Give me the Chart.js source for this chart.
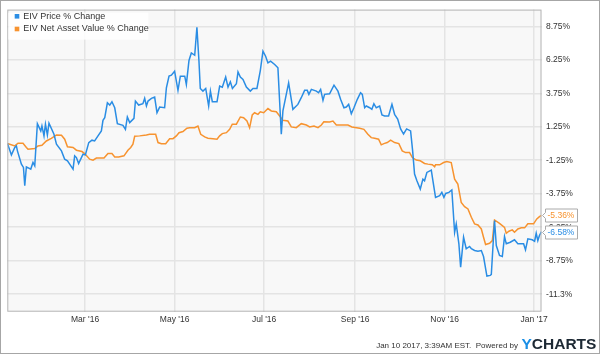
<!DOCTYPE html>
<html>
<head>
<meta charset="utf-8">
<script src="https://cdn.jsdelivr.net/npm/chart.js@4.4.1/dist/chart.umd.min.js"></script>
<style>
  html, body { margin: 0; padding: 0; background: #fff; }
  #wrap { width: 600px; height: 354px; position: relative; }
</style>
</head>
<body>
<div id="wrap"><canvas id="chart" width="600" height="354"></canvas></div>
<script>
// days counted from 1 Jan 2016 (day 0)
const priceDays = [
  7.1, 9.8, 12.1, 13.2, 13.9, 16.6, 18.0, 18.9, 20.0, 23.0,
  24.5, 25.7, 27.5, 29.8, 30.6, 32.0, 33.0, 34.3, 35.4, 38.8,
  40.5, 43.9, 46.1, 48.0, 49.5, 51.8, 52.9, 54.1, 55.6, 58.6,
  60.2, 62.5, 64.7, 66.5, 68.8, 71.1, 72.2, 73.4, 75.2, 76.8,
  78.3, 80.2, 82.0, 85.8, 87.5, 88.8, 90.4, 93.3, 94.3, 96.5,
  99.4, 100.6, 101.8, 102.9, 105.2, 107.4, 109.0, 110.8, 114.2, 115.4,
  117.2, 118.8, 121.0, 123.3, 124.9, 127.9, 129.0, 130.8, 132.4, 134.7,
  136.2, 137.6, 138.5, 140.3, 142.2, 144.2, 145.4, 146.7, 149.9, 151.7,
  153.5, 155.8, 157.4, 159.0, 160.4, 163.1, 164.2, 165.8, 167.6, 169.9,
  172.6, 174.4, 177.1, 179.4, 181.2, 183.0, 184.6, 186.4, 189.2, 191.4,
  193.7, 194.8, 197.1, 198.7, 201.6, 205.0, 207.3, 209.6, 211.4, 212.5,
  214.2, 217.6, 219.1, 220.5, 222.1, 223.2, 226.6, 229.6, 232.3, 234.1,
  236.4, 238.0, 239.6, 241.4, 243.2, 245.5, 247.7, 248.9, 250.5, 251.6,
  253.9, 255.4, 256.8, 258.4, 260.7, 262.3, 264.1, 266.8, 269.1, 270.9,
  273.0, 275.0, 277.0, 279.1, 281.8, 283.2, 284.5, 286.1, 288.4, 290.2,
  291.3, 292.9, 295.9, 297.0, 298.8, 301.6, 303.1, 304.5, 305.7, 307.9,
  309.9, 311.8, 312.9, 314.7, 315.9, 317.9, 319.7, 322.0, 323.2, 325.4,
  327.7, 330.0, 331.5, 333.8, 336.1, 336.8, 338.3, 339.0, 340.2, 342.4,
  344.3, 345.8, 347.0, 349.7, 352.6, 354.9, 357.2, 358.8, 360.1, 361.7,
  364.7, 366.3, 367.4, 368.5, 369.6, 371.0
];
const priceChange = [
  0.00, -0.85, -0.30, -0.18, -0.55, -1.54, -1.79, -3.15, -1.74, -1.91,
  -1.42, -1.67, 1.48, 0.94, 1.31, 0.57, 1.44, 0.64, 1.51, 0.69,
  -0.05, -0.55, -1.17, -1.29, -1.54, -1.91, -0.92, -1.05, -1.49, -0.80,
  -0.85, 0.07, 0.25, 0.19, 0.57, 0.94, 1.73, 1.93, 3.04, 2.87,
  3.12, 2.67, 1.48, 1.36, 1.06, 1.98, 1.56, 1.88, 3.17, 2.87,
  2.97, 3.37, 2.80, 3.17, 3.37, 3.47, 2.30, 2.72, 2.67, 4.16,
  5.03, 5.10, 5.40, 3.97, 5.03, 5.03, 4.41, 6.20, 6.76, 6.59,
  8.68, 6.14, 4.11, 3.91, 4.11, 2.80, 3.91, 3.12, 3.12, 4.29,
  4.21, 4.96, 4.21, 4.61, 4.11, 4.46, 5.35, 4.96, 4.78, 4.21,
  3.91, 4.11, 4.11, 5.45, 6.89, 6.52, 6.02, 6.15, 5.90, 5.65,
  0.69, 2.43, 3.67, 4.53, 2.55, 2.92, 3.42, 3.97, 3.97, 3.67,
  4.04, 3.91, 3.79, 4.04, 3.22, 3.67, 3.71, 4.36, 3.91, 3.30,
  2.67, 2.72, 2.92, 2.22, 2.67, 3.30, 3.79, 3.67, 2.67, 2.80,
  2.67, 2.55, 2.97, 2.67, 2.80, 2.13, 2.05, 2.05, 2.92, 2.18,
  1.83, 1.09, 0.71, 1.09, 0.94, -0.55, -2.28, -2.78, -3.40, -2.66,
  -2.78, -2.16, -1.99, -2.78, -4.02, -3.90, -3.65, -4.02, -3.73, -3.65,
  -3.47, -6.63, -6.00, -7.49, -9.23, -7.00, -7.86, -7.69, -7.86, -7.99,
  -8.04, -7.99, -8.44, -9.90, -9.85, -9.78, -7.00, -5.76, -7.62, -8.36,
  -8.44, -6.95, -7.49, -7.37, -7.19, -7.49, -7.49, -7.49, -7.94, -7.12,
  -7.19, -7.30, -6.70, -7.25, -6.87, -6.58
];

const navDays = [
  7.1, 12.1, 14.3, 17.7, 20.0, 21.1, 25.7, 27.9, 30.6, 33.6,
  37.0, 40.5, 43.9, 46.1, 48.0, 51.8, 54.1, 57.9, 59.7, 63.1,
  65.4, 67.7, 72.9, 75.6, 78.3, 80.2, 82.9, 86.5, 89.2, 91.1,
  92.6, 93.8, 97.2, 101.8, 104.0, 108.1, 109.7, 112.0, 114.9, 117.6,
  119.9, 122.2, 124.0, 126.7, 129.4, 131.3, 134.7, 136.9, 138.8, 141.5,
  143.7, 147.1, 149.9, 151.7, 153.5, 156.3, 158.5, 160.3, 163.1, 165.8,
  168.0, 170.3, 172.1, 173.9, 175.5, 177.8, 179.4, 181.7, 184.6, 186.9,
  190.3, 192.6, 194.8, 198.2, 200.5, 203.9, 207.3, 210.8, 213.0, 216.0,
  218.7, 221.0, 222.7, 226.6, 228.9, 231.2, 239.1, 241.8, 247.1, 250.0,
  252.7, 255.0, 257.3, 260.0, 261.8, 263.6, 265.9, 268.2, 270.9, 273.8,
  276.1, 278.4, 281.1, 283.0, 285.7, 288.4, 291.3, 293.6, 296.6, 298.2,
  298.8, 301.6, 304.3, 306.5, 309.5, 311.8, 314.0, 316.3, 318.6, 320.9,
  323.2, 325.4, 327.7, 330.0, 331.5, 332.9, 335.6, 337.5, 339.0, 342.4,
  345.8, 347.0, 348.8, 351.1, 352.6, 354.9, 357.2, 359.5, 361.7, 365.6,
  367.8, 369.6, 371.0
];
const navChange = [
  0.00, -0.18, 0.02, 0.02, -0.30, -0.42, -0.38, -0.18, -0.13, 0.19,
  0.39, 0.64, 0.62, 0.32, -0.25, -0.30, -0.50, -0.60, -0.75, -1.17,
  -1.24, -1.09, -1.09, -0.75, -0.75, -1.00, -1.00, -0.92, -0.50, -0.30,
  -0.05, 0.54, 0.57, 0.64, 0.69, 0.69, 0.07, -0.01, -0.01, 0.36,
  0.36, 0.57, 0.81, 0.89, 1.14, 1.18, 1.18, 1.31, 0.69, 0.49,
  0.39, 0.36, 0.32, 0.57, 0.74, 0.81, 1.06, 1.44, 1.44, 1.98,
  1.93, 1.68, 1.18, 2.13, 2.30, 2.18, 2.37, 2.30, 2.61, 2.43,
  2.37, 2.05, 1.73, 1.68, 1.24, 1.18, 1.48, 1.38, 1.24, 1.31,
  1.18, 1.38, 1.63, 1.61, 1.68, 1.38, 1.38, 1.24, 1.14, 1.06,
  0.69, 0.44, 0.39, 0.32, -0.10, -0.01, 0.07, 0.25, 0.07, -0.01,
  -0.55, -0.68, -0.68, -1.05, -1.24, -1.29, -1.49, -1.54, -1.59, -1.74,
  -1.59, -1.59, -1.42, -1.35, -1.42, -2.66, -3.03, -4.40, -4.72, -4.89,
  -5.51, -6.00, -6.08, -6.38, -7.00, -7.54, -7.45, -7.25, -5.71, -5.96,
  -6.26, -6.70, -6.55, -6.45, -6.63, -6.38, -6.30, -6.30, -6.00, -6.00,
  -5.63, -5.46, -5.36
];

const seriesNames = ['EIV Price % Change', 'EIV Net Asset Value % Change'];
const seriesColors = ['#2a8de4', '#f7932f'];

const xTickDays = [60, 121, 182, 244, 305, 366];
const xTickLabels = ["Mar '16", "May '16", "Jul '16", "Sep '16", "Nov '16", "Jan '17"];
const yTickValues = [-11.25, -8.75, -6.25, -3.75, -1.25, 1.25, 3.75, 6.25, 8.75];
const yTickLabels = ['-11.3%', '-8.75%', '-6.25%', '-3.75%', '-1.25%', '1.25%', '3.75%', '6.25%', '8.75%'];

const FONT = "'Liberation Sans', Arial, sans-serif";

function toPoints(xs, ys){
  return xs.map((x, i) => ({x: x, y: ys[i]}));
}

// plot background, borders, legend, end-value flags and footer
const decor = {
  id: 'decor',
  beforeDraw(chart){
    const {ctx, chartArea: a} = chart;
    ctx.save();
    ctx.fillStyle = '#fff';
    ctx.fillRect(0, 0, chart.width, chart.height);
    ctx.fillStyle = '#f8f8f8';
    ctx.fillRect(a.left, a.top, a.right - a.left, a.bottom - a.top);
    ctx.restore();
  },
  afterDatasetsDraw(chart){
    const {ctx, chartArea: a} = chart;
    ctx.save();
    ctx.strokeStyle = '#b4b4b4';
    ctx.lineWidth = 1;
    ctx.strokeRect(a.left + 0.5, a.top + 0.5, a.right - a.left - 1, a.bottom - a.top - 1);
    ctx.strokeStyle = '#a6a6a6';
    ctx.strokeRect(0.5, 0.5, chart.width - 1, chart.height - 1);

    // legend
    ctx.fillStyle = 'rgba(255,255,255,0.85)';
    ctx.fillRect(a.left + 1, a.top + 3, 140, 27);
    ctx.font = '9px ' + FONT;
    ctx.textBaseline = 'middle';
    seriesNames.forEach((name, i) => {
      const y = 16.3 + i * 12.7;
      ctx.fillStyle = seriesColors[i];
      ctx.fillRect(14.7, y - 2.3, 4.6, 4.6);
      ctx.fillStyle = '#333';
      ctx.fillText(name, 23.3, y);
    });

    // last value flags
    const ys = chart.scales.y;
    const flags = [
      {v: navChange[navChange.length - 1], c: seriesColors[1]},
      {v: priceChange[priceChange.length - 1], c: seriesColors[0]}
    ];
    ctx.font = '8.5px ' + FONT;
    flags.forEach(f => {
      const y = Math.round(ys.getPixelForValue(f.v)) + 0.5;
      const x0 = a.right + 4, x1 = 577.5, h = 6.5;
      ctx.beginPath();
      ctx.moveTo(a.right + 1, y);
      ctx.lineTo(x0, y - 3);
      ctx.lineTo(x0, y - h);
      ctx.lineTo(x1, y - h);
      ctx.lineTo(x1, y + h);
      ctx.lineTo(x0, y + h);
      ctx.lineTo(x0, y + 3);
      ctx.closePath();
      ctx.fillStyle = '#fff';
      ctx.fill();
      ctx.strokeStyle = '#aaa';
      ctx.stroke();
      ctx.fillStyle = f.c;
      ctx.textAlign = 'left';
      ctx.fillText(f.v.toFixed(2) + '%', x0 + 2, y + 0.5);
    });

    // footer
    ctx.fillStyle = '#333';
    ctx.font = '8px ' + FONT;
    ctx.textAlign = 'right';
    ctx.textBaseline = 'alphabetic';
    ctx.fillText('Jan 10 2017, 3:39AM EST.  Powered by', 518, 348);
    ctx.textAlign = 'left';
    ctx.font = 'bold 15.5px ' + FONT;
    ctx.fillStyle = '#1a8fe6';
    ctx.fillText('Y', 521.5, 348.5);
    const yw = ctx.measureText('Y').width;
    ctx.fillStyle = '#1c2833';
    ctx.fillText('CHARTS', 521.5 + yw, 348.5);
    ctx.restore();
  }
};

new Chart(document.getElementById('chart').getContext('2d'), {
  type: 'line',
  data: {
    datasets: [
      {label: seriesNames[0], data: toPoints(priceDays, priceChange), borderColor: seriesColors[0], borderWidth: 1.5, pointRadius: 0, tension: 0, fill: false},
      {label: seriesNames[1], data: toPoints(navDays, navChange), borderColor: seriesColors[1], borderWidth: 1.5, pointRadius: 0, tension: 0, fill: false}
    ]
  },
  options: {
    responsive: false,
    animation: false,
    layout: {padding: {left: 7.3, top: 7.3, right: 0, bottom: 0}},
    plugins: {legend: {display: false}, tooltip: {enabled: false}},
    scales: {
      x: {
        type: 'linear',
        min: 7, max: 371,
        afterBuildTicks: s => { s.ticks = xTickDays.map(v => ({value: v})); },
        afterFit: s => { s.height = 42.3; },
        grid: {color: '#e4e4e4', lineWidth: 1.5, drawTicks: false},
        border: {display: false},
        ticks: {
          autoSkip: false, maxRotation: 0, padding: 3,
          color: '#333', font: {size: 8.5, family: FONT},
          callback: (v, i) => xTickLabels[i]
        }
      },
      y: {
        position: 'right',
        min: -12.56, max: 10.0,
        afterBuildTicks: s => { s.ticks = yTickValues.map(v => ({value: v})); },
        afterFit: s => { s.width = 58.5; },
        grid: {color: '#e4e4e4', lineWidth: 1.5, drawTicks: false},
        border: {display: false},
        ticks: {
          padding: 4.5,
          color: '#333', font: {size: 8.5, family: FONT},
          callback: (v, i) => yTickLabels[i]
        }
      }
    }
  },
  plugins: [decor]
});
</script>
</body>
</html>
